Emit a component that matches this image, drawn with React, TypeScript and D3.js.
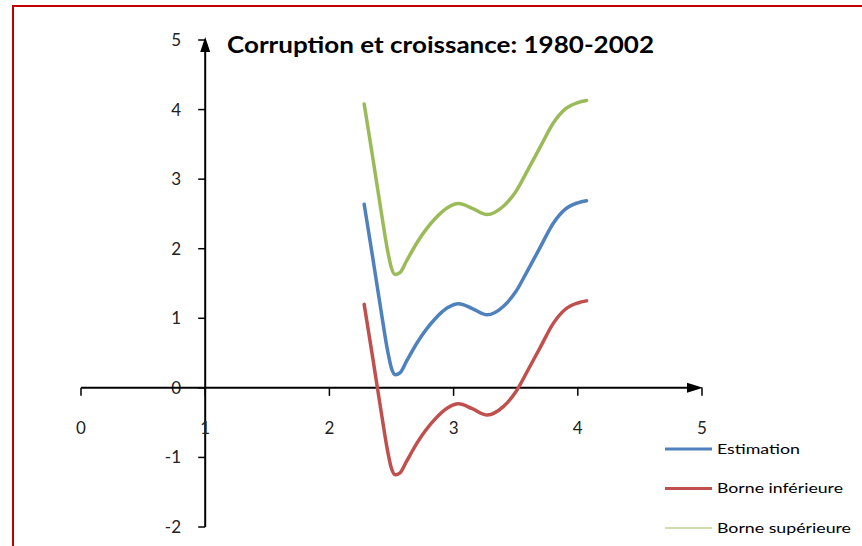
import React from "react";
import * as d3 from "d3";

// data
const xValues = [2.28, 2.35, 2.42, 2.47, 2.5, 2.53, 2.57, 2.62, 2.71, 2.85, 2.95, 3.04, 3.15, 3.27, 3.4, 3.5, 3.6, 3.7, 3.8, 3.9, 4.0, 4.07];
const estimation = [2.64, 1.86, 1.06, 0.52, 0.28, 0.19, 0.22, 0.38, 0.66, 0.99, 1.15, 1.21, 1.14, 1.05, 1.17, 1.38, 1.7, 2.03, 2.36, 2.57, 2.66, 2.69];
const borneInf = [1.2, 0.42, -0.38, -0.92, -1.16, -1.25, -1.22, -1.06, -0.78, -0.45, -0.29, -0.23, -0.3, -0.39, -0.27, -0.06, 0.26, 0.59, 0.92, 1.13, 1.22, 1.25];
const borneSup = [4.08, 3.3, 2.5, 1.96, 1.72, 1.63, 1.66, 1.82, 2.1, 2.43, 2.59, 2.65, 2.58, 2.49, 2.61, 2.82, 3.14, 3.47, 3.8, 4.01, 4.1, 4.13];

const xTicks = [0, 1, 2, 3, 4, 5];
const yTicks = [-2, -1, 0, 1, 2, 3, 4, 5];

const seriesNames = ["Estimation", "Borne inférieure", "Borne supérieure"];
const seriesColors = ["#4F81BD", "#C0504D", "#9BBB59"];
const legendStroke = [3, 3, 1];

const W = 862;
const H = 546;
const font = "Lato, 'Open Sans', sans-serif";

export default function App() {
  const x = d3.scaleLinear().domain([0, 5]).range([81, 702]);
  const y = d3.scaleLinear().domain([-2, 5]).range([527, 40]);
  const x0 = x(1); // the y axis crosses at x = 1
  const y0 = y(0);

  const line = d3
    .line<number>()
    .x((_, i) => x(xValues[i]))
    .y((d) => y(d))
    .curve(d3.curveMonotoneX);

  const series = [estimation, borneInf, borneSup];

  return (
    <svg
      width={W}
      height={H}
      style={{ position: "absolute", left: 0, top: 0, background: "#fff" }}
      fontFamily={font}
    >
      <rect x={13} y={6} width={900} height={600} fill="none" stroke="#C00000" strokeWidth={2} />

      {/* title */}
      <text x={227} y={53} fontSize={22} fontWeight={700} fill="#000" textLength={427} lengthAdjust="spacingAndGlyphs">
        Corruption et croissance: 1980-2002
      </text>

      {/* y axis */}
      <line x1={x0} x2={x0} y1={50} y2={y(-2)} stroke="#000" strokeWidth={2} />
      <path d={`M${x0},${37} L${x0 - 5},${52} L${x0 + 5},${52} Z`} fill="#000" />
      {yTicks.map((t) => (
        <g key={t}>
          <line x1={x0 - 7} x2={x0} y1={y(t)} y2={y(t)} stroke="#000" strokeWidth={1.5} />
          <text x={181} y={y(t)} dy="0.35em" textAnchor="end" fontSize={17} fill="#222">
            {t}
          </text>
        </g>
      ))}

      {/* x axis */}
      <line x1={x(0)} x2={688} y1={y0} y2={y0} stroke="#000" strokeWidth={2} />
      <path d={`M${703},${y0} L${687},${y0 - 5} L${687},${y0 + 5} Z`} fill="#000" />
      {xTicks.map((t) => (
        <g key={t}>
          <line x1={x(t)} x2={x(t)} y1={y0} y2={y0 + 8} stroke="#000" strokeWidth={1.5} />
          <text x={x(t)} y={428} dy="0.35em" textAnchor="middle" fontSize={17} fill="#222">
            {t}
          </text>
        </g>
      ))}

      {/* curves */}
      {series.map((s, i) => (
        <path
          key={seriesNames[i]}
          d={line(s) ?? ""}
          fill="none"
          stroke={seriesColors[i]}
          strokeWidth={3.5}
          strokeLinecap="round"
          strokeLinejoin="round"
        />
      ))}

      {/* legend */}
      {seriesNames.map((name, i) => {
        const ly = 449 + i * 39.5;
        const widths = [83, 126, 134];
        return (
          <g key={name}>
            <line x1={665} x2={712} y1={ly} y2={ly} stroke={seriesColors[i]} strokeWidth={legendStroke[i]} />
            <text x={717} y={ly} dy="0.35em" fontSize={14} fill="#000" textLength={widths[i]} lengthAdjust="spacingAndGlyphs">
              {name}
            </text>
          </g>
        );
      })}
    </svg>
  );
}
